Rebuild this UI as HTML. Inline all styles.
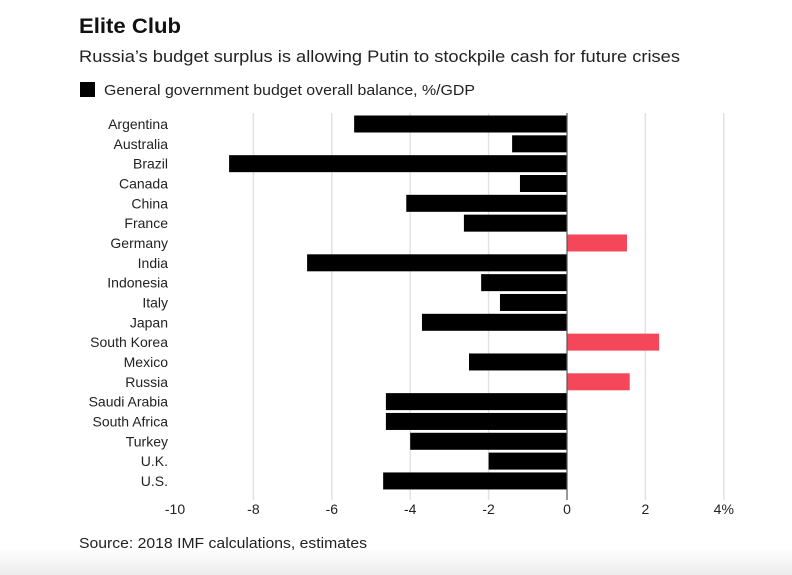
<!DOCTYPE html>
<html><head><meta charset="utf-8"><style>
body{margin:0;width:792px;height:575px;overflow:hidden;background:#fff;font-family:"Liberation Sans",sans-serif;position:relative}
#bg{position:absolute;left:0;top:548px;width:792px;height:27px;background:linear-gradient(#fff,#ececec)}
</style></head><body>
<div id="bg"></div>
<svg id="c" width="792" height="575" style="position:absolute;left:0;top:0">
<text x="79" y="33" font-size="21" font-weight="bold" fill="#111" textLength="102" lengthAdjust="spacingAndGlyphs">Elite Club</text>
<text x="79" y="62" font-size="17" fill="#222" textLength="601" lengthAdjust="spacingAndGlyphs">Russia’s budget surplus is allowing Putin to stockpile cash for future crises</text>
<rect x="80" y="82" width="15" height="15" fill="#000"/>
<text x="104" y="95" font-size="15" fill="#222" textLength="371" lengthAdjust="spacingAndGlyphs">General government budget overall balance, %/GDP</text>
<text x="79" y="548" font-size="15" fill="#222" textLength="288" lengthAdjust="spacingAndGlyphs">Source: 2018 IMF calculations, estimates</text>
<g id="grid"></g><g id="bars"></g><g id="labels"></g><g id="ticks"></g>
</svg>
<script>
const countries=["Argentina","Australia","Brazil","Canada","China","France","Germany","India","Indonesia","Italy","Japan","South Korea","Mexico","Russia","Saudi Arabia","South Africa","Turkey","U.K.","U.S."];
const values=[-5.43,-1.4,-8.62,-1.2,-4.1,-2.63,1.53,-6.63,-2.19,-1.71,-3.7,2.35,-2.5,1.6,-4.62,-4.62,-4.0,-2.0,-4.69];
const tickValues=[-10,-8,-6,-4,-2,0,2,4];
const tickLabels=["-10","-8","-6","-4","-2","0","2","4%"];
const NS="http://www.w3.org/2000/svg";
const x=v=>567+v*39.2;
const y=i=>124+i*19.83;
function mk(t,a,p){const e=document.createElementNS(NS,t);for(const k in a)e.setAttribute(k,a[k]);document.getElementById(p).appendChild(e);return e;}
tickValues.forEach((v,i)=>{
  if(v!==-10&&v!==0){const l=mk("line",{x1:x(v),x2:x(v),y1:113,y2:500,stroke:"#e2e2e2","stroke-width":1.5},"grid");
  
  }
  const t=mk("text",{x:x(v),y:514,"font-size":14,fill:"#222","text-anchor":"middle"},"ticks");t.textContent=tickLabels[i];
  
  
});
countries.forEach((c,i)=>{
  const v=values[i];
  const r=mk("rect",{x:Math.min(x(0),x(v)),y:y(i)-8.5,width:Math.abs(x(v)-x(0)),height:17,fill:v<0?"#000":"#f4475a"},"bars");
  
  
  const t=mk("text",{x:168,y:y(i)+5,"font-size":14,fill:"#222","text-anchor":"end"},"labels");t.textContent=c;
  
  
});
const z=mk("line",{x1:x(0),x2:x(0),y1:113,y2:500,stroke:"#555","stroke-width":1.2},"bars");


</script>
</body></html>
